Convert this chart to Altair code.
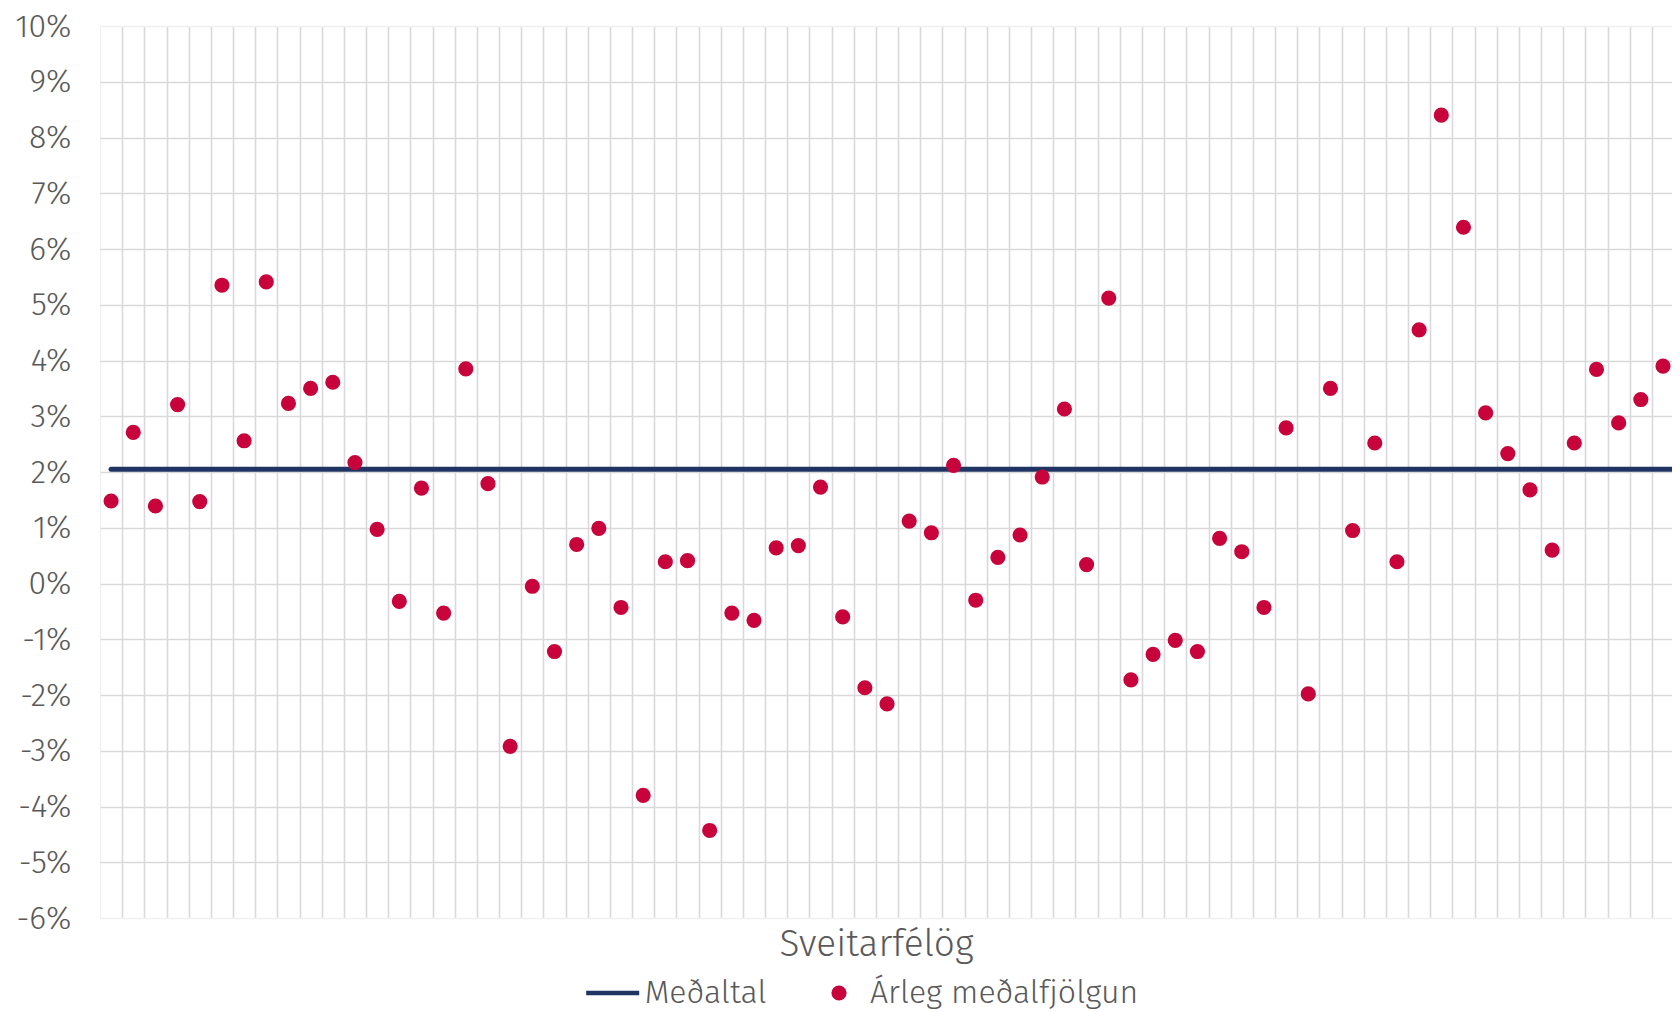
import altair as alt
import pandas as pd

# Annual average population growth (%) per municipality
growth = [1.48, 2.71, 1.39, 3.21, 1.47, 5.35, 2.56, 5.41, 3.23, 3.50,
          3.61, 2.17, 0.97, -0.32, 1.71, -0.53, 3.85, 1.79, -2.92, -0.05,
          -1.22, 0.70, 0.99, -0.43, -3.80, 0.39, 0.41, -4.43, -0.53, -0.66,
          0.64, 0.68, 1.73, -0.60, -1.87, -2.16, 1.12, 0.91, 2.12, -0.30,
          0.47, 0.87, 1.91, 3.13, 0.34, 5.12, -1.73, -1.27, -1.02, -1.22,
          0.81, 0.57, -0.43, 2.79, -1.98, 3.50, 0.95, 2.52, 0.39, 4.55,
          8.40, 6.39, 3.06, 2.33, 1.68, 0.60, 2.52, 3.84, 2.88, 3.30,
          3.90, 2.21]
average = 2.05
series_names = ["Meðaltal", "Árleg meðalfjölgun"]
y_ticks = list(range(-6, 11))
x_title = "Sveitarfélög"

NAVY = "#1F3462"
RED = "#C8033C"
GRID = "#D9D9D9"
TEXT = "#595959"
FONT = "Fira Sans"

n = len(growth)
nr = list(range(1, n + 1))
df_pts = pd.DataFrame({"nr": nr, "value": growth, "series": series_names[1]})
df_avg = pd.DataFrame({"nr": nr, "value": [average] * n, "series": series_names[0]})

x_enc = alt.X(
    "nr:Q",
    scale=alt.Scale(domain=[0.5, 71.406], nice=False, zero=False),
    axis=alt.Axis(
        values=[k + 0.5 for k in range(1, n)],
        labels=False, ticks=False, domain=False,
        grid=True, gridColor=GRID, gridWidth=1.6,
        title=x_title, titleFontSize=37, titleFontWeight=300, titleColor=TEXT,
        titleFont=FONT, titleX=776, titleY=37, titleBaseline="alphabetic",
    ),
)
y_enc = alt.Y(
    "value:Q",
    scale=alt.Scale(domain=[-6, 10], nice=False, zero=False),
    axis=alt.Axis(
        values=y_ticks,
        labelExpr="datum.value + '%'",
        ticks=False, domain=False,
        labelPadding=29, labelFontSize=32, labelFontWeight=300,
        labelColor=TEXT, labelFont=FONT,
        grid=True,
        gridColor=alt.condition("datum.value === 10 || datum.value === -6",
                                alt.value("#F0F0F0"), alt.value(GRID)),
        gridWidth=1.6,
        title=None,
    ),
)

line = alt.Chart(df_avg).mark_line(strokeWidth=5, clip=True, strokeCap="round").encode(
    x=x_enc,
    y=y_enc,
    color=alt.Color(
        "series:N",
        scale=alt.Scale(domain=[series_names[0]], range=[NAVY]),
        legend=alt.Legend(
            orient="none", legendX=483.7, legendY=938, title=None,
            symbolType="stroke", symbolSize=2809, symbolStrokeWidth=4.5,
            labelFontSize=32, labelFontWeight=300, labelColor=TEXT, labelFont=FONT,
            labelOffset=3, padding=0, labelLimit=0,
        ),
    ),
)

pts = alt.Chart(df_pts).mark_circle(size=230, opacity=1, clip=True).encode(
    x=x_enc,
    y=y_enc,
    color=alt.Color(
        "series:N",
        scale=alt.Scale(domain=[series_names[1]], range=[RED]),
        legend=alt.Legend(
            orient="none", legendX=723, legendY=951, title=None,
            symbolType="circle", symbolSize=230, symbolStrokeWidth=0,
            symbolOpacity=1,
            labelFontSize=32, labelFontWeight=300, labelColor=TEXT, labelFont=FONT,
            labelOffset=15, padding=0, labelLimit=0,
        ),
    ),
)

chart = (
    alt.layer(line, pts)
    .resolve_scale(color="independent")
    .resolve_legend(color="independent")
    .properties(
        width=1572, height=892,
        autosize=alt.AutoSizeParams(type="none"),
        padding={"left": 92, "top": 18, "right": 0, "bottom": 94},
    )
    .configure(font=FONT)
    .configure_view(stroke="#EEEEEE", strokeWidth=1)
)

chart.save("out.html", embed_options={"renderer": "svg", "actions": False})
